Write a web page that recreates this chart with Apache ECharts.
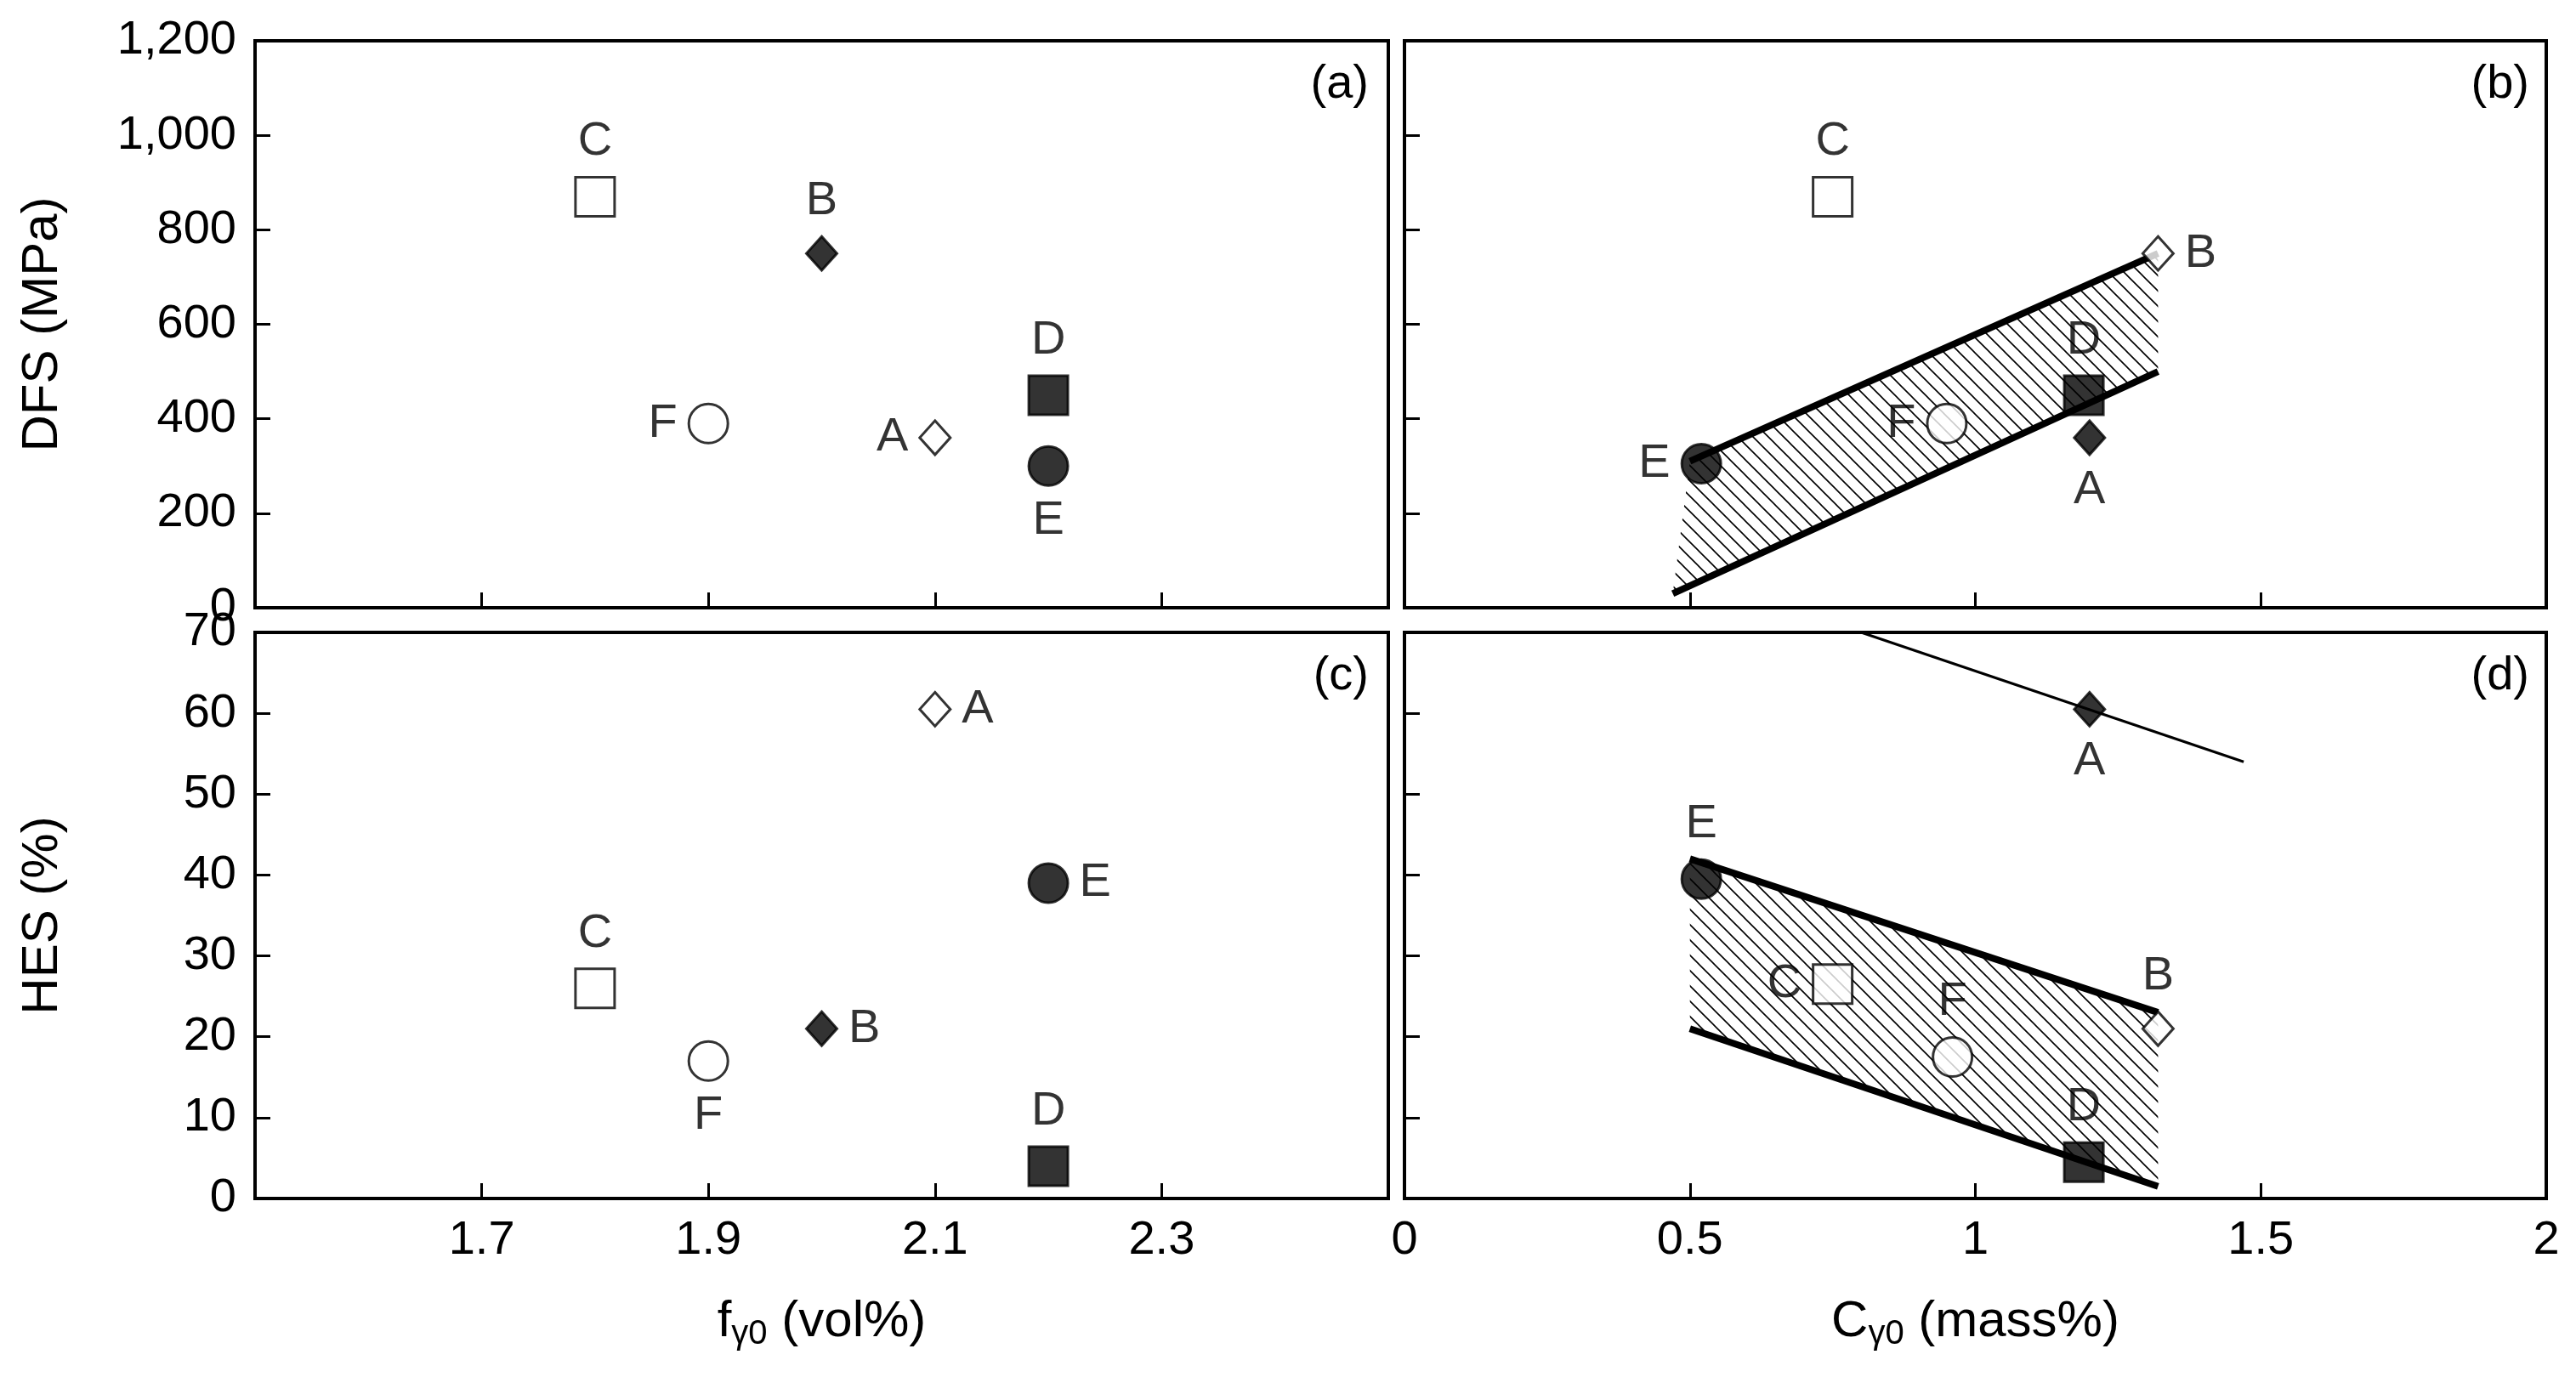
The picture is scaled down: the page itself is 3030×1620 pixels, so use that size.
<!DOCTYPE html>
<html>
<head>
<meta charset="utf-8">
<script src="https://cdn.jsdelivr.net/npm/echarts@6/dist/echarts.min.js"></script>
<style>html,body{margin:0;background:#fff}#main{width:3030px;height:1620px}</style>
</head>
<body>
<div id="main"></div>
<script>
// panel (a): f_γ0 vs DFS
var aNames = ['C', 'B', 'D', 'E', 'F', 'A'];
var aX = [1.8, 2.0, 2.2, 2.2, 1.9, 2.1];
var aY = [870, 750, 450, 300, 390, 360];
var aMark = ['openSquare', 'fillDiamond', 'fillSquare', 'fillCircle', 'openCircle', 'openDiamond'];
var aPos = ['top', 'top', 'top', 'bottom', 'left', 'left'];
// panel (b): C_γ0 vs DFS
var bNames = ['C', 'B', 'D', 'A', 'F', 'E'];
var bX = [0.75, 1.32, 1.19, 1.2, 0.95, 0.52];
var bY = [870, 750, 450, 360, 390, 305];
var bMark = ['openSquare', 'openDiamond', 'fillSquare', 'fillDiamond', 'openCircle', 'fillCircle'];
var bPos = ['top', 'right', 'top', 'bottom', 'left', 'left'];
var bBandX = [0.5, 1.32, 1.32, 0.47];
var bBandY = [310, 750, 500, 30];
// panel (c): f_γ0 vs HES
var cNames = ['A', 'E', 'C', 'B', 'F', 'D'];
var cX = [2.1, 2.2, 1.8, 2.0, 1.9, 2.2];
var cY = [60.5, 39, 26, 21, 17, 4];
var cMark = ['openDiamond', 'fillCircle', 'openSquare', 'fillDiamond', 'openCircle', 'fillSquare'];
var cPos = ['right', 'right', 'top', 'right', 'bottom', 'top'];
// panel (d): C_γ0 vs HES
var dNames = ['A', 'E', 'C', 'F', 'B', 'D'];
var dX = [1.2, 0.52, 0.75, 0.96, 1.32, 1.19];
var dY = [60.5, 39.5, 26.5, 17.5, 21, 4.5];
var dMark = ['fillDiamond', 'fillCircle', 'openSquare', 'openCircle', 'openDiamond', 'fillSquare'];
var dPos = ['bottom', 'top', 'left', 'top', 'top', 'top'];
var dTrendX = [0.8, 1.47];
var dTrendY = [70, 54];
var dBandX = [0.5, 1.32, 1.32, 0.5];
var dBandY = [42, 23, 1.5, 21];

var chart = echarts.init(document.getElementById('main'));
var FONT = 'Liberation Sans';

// hatch pattern
var pat = document.createElement('canvas');
pat.width = 18; pat.height = 18;
var ctx = pat.getContext('2d');
ctx.strokeStyle = '#000'; ctx.lineWidth = 1.6;
ctx.beginPath();
ctx.moveTo(-2, -2); ctx.lineTo(20, 20);
ctx.moveTo(-2, 16); ctx.lineTo(2, 20);
ctx.moveTo(16, -2); ctx.lineTo(20, 2);
ctx.stroke();

function markStyle(m) {
    var open = m.indexOf('open') === 0;
    var shape = m.replace('open', '').replace('fill', '');
    var sym = shape === 'Square' ? 'rect' : shape === 'Diamond' ? 'diamond' : 'circle';
    var size = shape === 'Square' ? 46 : shape === 'Diamond' ? [36, 40] : 46;
    return {symbol: sym, symbolSize: size,
        itemStyle: {color: open ? '#fff' : '#000', borderColor: '#000', borderWidth: 3}};
}

function scatter(idx, names, xs, ys, marks, pos) {
    return {
        type: 'scatter', xAxisIndex: idx, yAxisIndex: idx, z: 5,
        data: names.map(function (n, i) {
            var s = markStyle(marks[i]);
            return {value: [xs[i], ys[i]], name: n, symbol: s.symbol, symbolSize: s.symbolSize,
                itemStyle: s.itemStyle,
                label: {show: true, position: pos[i], distance: 12, formatter: n,
                    fontSize: 56, color: '#000', fontFamily: FONT}};
        })
    };
}

function band(idx, xs, ys) {
    return [{
        type: 'custom', xAxisIndex: idx, yAxisIndex: idx, z: 2, data: [0],
        renderItem: function (params, api) {
            var pts = xs.map(function (x, i) { return api.coord([x, ys[i]]); });
            return {type: 'polygon', shape: {points: pts},
                style: {fill: {image: pat, repeat: 'repeat'}, stroke: null}};
        }
    }, {
        type: 'line', xAxisIndex: idx, yAxisIndex: idx, z: 3, symbol: 'none',
        lineStyle: {color: '#000', width: 8},
        data: [[xs[0], ys[0]], [xs[1], ys[1]]]
    }, {
        type: 'line', xAxisIndex: idx, yAxisIndex: idx, z: 3, symbol: 'none',
        lineStyle: {color: '#000', width: 8},
        data: [[xs[3], ys[3]], [xs[2], ys[2]]]
    }];
}

var grids = [
    {left: 300, width: 1333, top: 48, height: 667},
    {left: 1652, width: 1343, top: 48, height: 667},
    {left: 300, width: 1333, top: 744, height: 666},
    {left: 1652, width: 1343, top: 744, height: 666}
].map(function (g) { g.show = true; g.borderColor = '#000'; g.borderWidth = 4; g.backgroundColor = 'transparent'; return g; });

var tickLbl = {fontSize: 56, color: '#000', fontFamily: FONT, margin: 22};
function xAx(i, min, max, step, labels, name) {
    return {type: 'value', gridIndex: i, min: min, max: max, interval: step,
        axisLine: {show: false}, splitLine: {show: false},
        axisTick: {inside: true, length: 18, lineStyle: {width: 3, color: '#000'}},
        axisLabel: Object.assign({show: labels, showMinLabel: i === 3, showMaxLabel: i === 3}, tickLbl),
        name: name, nameLocation: 'middle', nameGap: 110,
        nameTextStyle: {fontSize: 60, color: '#000', fontFamily: FONT,
            rich: {s: {fontSize: 40, verticalAlign: 'bottom', padding: [30, 0, 0, 0], fontFamily: FONT}}}};
}
function yAx(i, max, step, labels, name) {
    return {type: 'value', gridIndex: i, min: 0, max: max, interval: step,
        axisLine: {show: false}, splitLine: {show: false},
        axisTick: {inside: true, length: 18, lineStyle: {width: 3, color: '#000'}},
        axisLabel: Object.assign({show: labels}, tickLbl),
        name: name, nameLocation: 'middle', nameGap: 220, nameRotate: 90,
        nameTextStyle: {fontSize: 60, color: '#000', fontFamily: FONT}};
}

var series = [
    scatter(0, aNames, aX, aY, aMark, aPos),
    scatter(1, bNames, bX, bY, bMark, bPos),
    scatter(2, cNames, cX, cY, cMark, cPos),
    scatter(3, dNames, dX, dY, dMark, dPos),
    {type: 'line', xAxisIndex: 3, yAxisIndex: 3, symbol: 'none', z: 3,
        lineStyle: {color: '#000', width: 3},
        data: [[dTrendX[0], dTrendY[0]], [dTrendX[1], dTrendY[1]]]}
].concat(band(1, bBandX, bBandY), band(3, dBandX, dBandY));

function panelTag(t, right, top) {
    return {type: 'text', right: right, top: top, z: 10,
        style: {text: t, fontSize: 56, fill: '#000', fontFamily: FONT}};
}

chart.setOption({
    animation: false,
    backgroundColor: '#fff',
    grid: grids,
    xAxis: [
        xAx(0, 1.5, 2.5, 0.2, false, ''),
        xAx(1, 0, 2, 0.5, false, ''),
        xAx(2, 1.5, 2.5, 0.2, true, '{n|f}{s|γ0}{n| (vol%)}'),
        xAx(3, 0, 2, 0.5, true, '{n|C}{s|γ0}{n| (mass%)}')
    ],
    yAxis: [
        yAx(0, 1200, 200, true, 'DFS (MPa)'),
        yAx(1, 1200, 200, false, ''),
        yAx(2, 70, 10, true, 'HES (%)'),
        yAx(3, 70, 10, false, '')
    ],
    series: series,
    graphic: [
        panelTag('(a)', 1420, 72),
        panelTag('(b)', 55, 72),
        panelTag('(c)', 1420, 768),
        panelTag('(d)', 55, 768)
    ]
});
</script>
</body>
</html>
